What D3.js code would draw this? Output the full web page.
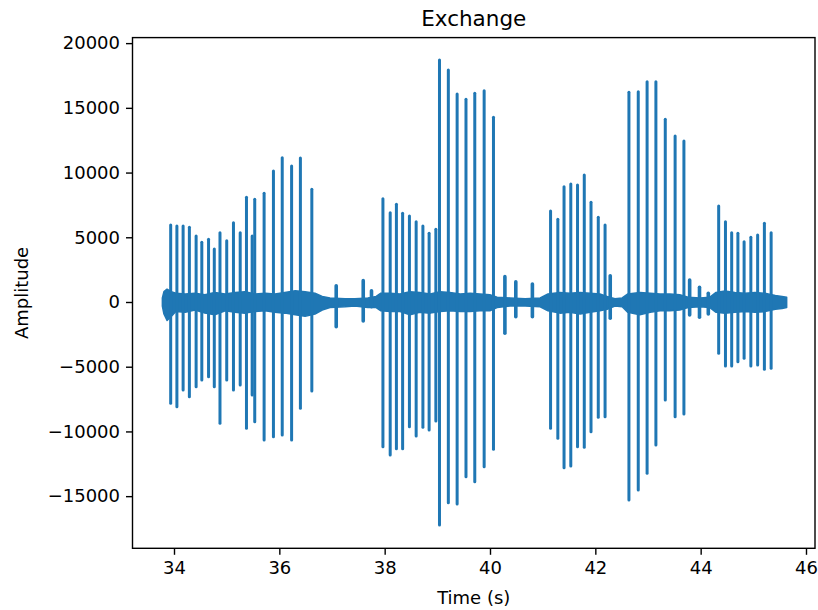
<!DOCTYPE html>
<html>
<head>
<meta charset="utf-8">
<script src="https://cdn.jsdelivr.net/npm/d3@7"></script>
<style>
  body { margin: 0; background: #fff; }
  text { font-family: "DejaVu Sans", sans-serif; fill: #000; }
</style>
</head>
<body>
<script>
/* clicks: time (s), positive peak, negative peak */
const spikeTime = [33.937, 34.055, 34.173, 34.292, 34.420, 34.528, 34.656, 34.765, 34.873, 35.001, 35.129, 35.257, 35.376, 35.484, 35.533, 35.711, 35.888, 36.055, 36.233, 36.400, 36.617,
  37.967, 38.105, 38.223, 38.341, 38.470, 38.598, 38.726, 38.844, 38.972, 39.041, 39.209, 39.376, 39.544, 39.711, 39.889, 40.066,
  41.150, 41.288, 41.406, 41.534, 41.662, 41.790, 41.918, 42.056, 42.185, 42.638, 42.815, 42.983, 43.150, 43.328, 43.515, 43.682,
  44.342, 44.471, 44.589, 44.707, 44.825, 44.953, 45.082, 45.210, 45.338];
const spikeHigh = [5950, 5870, 5870, 5770, 5100, 4610, 4840, 4100, 5350, 4740, 6130, 5350, 8090, 5100, 7940, 8400, 10120, 11150, 10510, 11130, 8710,
  7980, 6900, 7550, 6850, 6640, 6200, 5870, 5310, 5620, 18700, 17920, 16070, 15660, 16120, 16330, 14270,
  7030, 6390, 8910, 9120, 9040, 9810, 7700, 6540, 5950, 16200, 16250, 17020, 17020, 14120, 12830, 12440,
  7420, 6200, 5350, 5310, 4660, 5000, 5180, 6080, 5350];
const spikeLow = [-7830, -8090, -6800, -7320, -6540, -6030, -5770, -6540, -9370, -6030, -6800, -6410, -9760, -7190, -9250, -10660, -10410, -10280, -10660, -8210, -6880,
  -11180, -11820, -11340, -11340, -9630, -10350, -9680, -9890, -9190, -17230, -15510, -15610, -13500, -13880, -12730, -11380,
  -9760, -10530, -12800, -12670, -11180, -11230, -10020, -8910, -8860, -15300, -14530, -13240, -11050, -7570, -8860, -8650,
  -3960, -4950, -4950, -4610, -4350, -4950, -4870, -5200, -5120];

/* small bumps in the quiet parts */
const bumpTime = [37.080, 37.593, 37.750, 40.283, 40.490, 40.805, 42.283, 43.791, 43.978, 44.145];
const bumpHigh = [1260, 1650, 870, 1960, 1570, 1390, 2030, 1700, 1140, 670];
const bumpLow = [-1910, -1470, -360, -2420, -1140, -1140, -1260, -1000, -1180, -930];

/* background noise envelope */
const bandTime = [33.779, 33.809, 33.868, 33.947, 34.035, 34.213, 34.400, 34.587, 34.774, 34.972, 35.159, 35.346, 35.543, 35.730, 35.917, 36.105, 36.302, 36.489, 36.676, 36.814,
  36.962, 37.248, 37.435, 37.681, 37.839, 37.928, 38.105, 38.292, 38.479, 38.667, 38.864, 39.051, 39.238, 39.435, 39.623, 39.810, 39.997, 40.135, 40.381, 40.667,
  40.953, 41.101, 41.327, 41.514, 41.712, 41.899, 42.086, 42.224, 42.372, 42.510, 42.618, 42.845, 43.042, 43.229, 43.416, 43.603, 43.761, 43.988, 44.175, 44.293,
  44.461, 44.648, 44.845, 45.032, 45.219, 45.417, 45.545, 45.633];
const bandHigh = [310, 800, 990, 800, 680, 620, 680, 560, 740, 620, 740, 800, 620, 680, 620, 740, 860, 800, 680, 430,
  310, 250, 250, 310, 430, 680, 680, 620, 800, 740, 620, 800, 740, 620, 680, 620, 560, 370, 310, 250,
  310, 620, 740, 680, 740, 680, 620, 430, 250, 310, 620, 740, 680, 620, 620, 560, 370, 310, 370, 740,
  860, 740, 680, 740, 680, 500, 430, 370];
const bandLow = [-310, -930, -1420, -1110, -740, -800, -620, -860, -990, -680, -800, -860, -740, -680, -800, -860, -990, -1110, -930, -620,
  -430, -370, -310, -430, -430, -680, -740, -740, -990, -800, -860, -740, -680, -740, -740, -680, -680, -430, -310, -310,
  -370, -680, -860, -800, -930, -800, -680, -560, -310, -370, -800, -990, -800, -680, -680, -620, -430, -370, -430, -800,
  -860, -800, -740, -800, -740, -560, -500, -430];

const xTicks = [34, 36, 38, 40, 42, 44, 46];
const yTicks = [-15000, -10000, -5000, 0, 5000, 10000, 15000, 20000];

const W = 818, H = 610;
const box = {left: 132.5, right: 815, top: 37.6, bottom: 548.3};
const blue = "#1f77b4";

const svg = d3.select("body").append("svg")
  .attr("width", W).attr("height", H);

const x = d3.scaleLinear().domain([33.212, 46.171]).range([box.left, box.right]);
const y = d3.scaleLinear().domain([-19029, 20427]).range([box.bottom, box.top]);

svg.append("clipPath").attr("id", "clip")
  .append("rect")
  .attr("x", box.left).attr("y", box.top)
  .attr("width", box.right - box.left).attr("height", box.bottom - box.top);

const g = svg.append("g").attr("clip-path", "url(#clip)");

// noise band
const band = bandTime.map((t, i) => ({t: t, hi: bandHigh[i], lo: bandLow[i]}));
g.append("path")
  .datum(band)
  .attr("fill", blue)
  .attr("stroke", blue)
  .attr("stroke-width", 1.5)
  .attr("stroke-linejoin", "round")
  .attr("d", d3.area().x(d => x(d.t)).y0(d => y(d.lo)).y1(d => y(d.hi)));

// bumps and clicks as vertical strokes
const stroke = d3.line().x(d => x(d[0])).y(d => y(d[1]));

g.selectAll(".bump")
  .data(bumpTime.map((t, i) => [[t, bumpHigh[i]], [t, bumpLow[i]]]))
  .join("path")
  .attr("class", "bump")
  .attr("fill", "none").attr("stroke", blue)
  .attr("stroke-width", 3.6).attr("stroke-linecap", "round")
  .attr("d", stroke);

g.selectAll(".spike")
  .data(spikeTime.map((t, i) => [[t, spikeHigh[i]], [t, spikeLow[i]]]))
  .join("path")
  .attr("class", "spike")
  .attr("fill", "none").attr("stroke", blue)
  .attr("stroke-width", 3).attr("stroke-linecap", "round")
  .attr("d", stroke);

// axes
const fmt = d3.format("d");

const xAxis = svg.append("g")
  .attr("transform", "translate(0," + box.bottom + ")")
  .call(d3.axisBottom(x).tickValues(xTicks).tickFormat(fmt).tickSize(6.5).tickPadding(6));
const yAxis = svg.append("g")
  .attr("transform", "translate(" + box.left + ",0)")
  .call(d3.axisLeft(y).tickValues(yTicks).tickFormat(fmt).tickSize(6.5).tickPadding(6));

[xAxis, yAxis].forEach(a => {
  a.select(".domain").remove();
  a.selectAll("line").attr("stroke", "#000").attr("stroke-width", 1.4);
  a.selectAll("text").style("font-size", "18px").attr("fill", "#000");
});

// frame
svg.append("rect")
  .attr("x", box.left).attr("y", box.top)
  .attr("width", box.right - box.left).attr("height", box.bottom - box.top)
  .attr("fill", "none").attr("stroke", "#000").attr("stroke-width", 1.4);

// labels
svg.append("text")
  .attr("x", (box.left + box.right) / 2).attr("y", 26)
  .attr("text-anchor", "middle").style("font-size", "21.5px")
  .text("Exchange");

svg.append("text")
  .attr("x", (box.left + box.right) / 2).attr("y", 604)
  .attr("text-anchor", "middle").style("font-size", "18px")
  .text("Time (s)");

svg.append("text")
  .attr("transform", "translate(28," + (box.top + box.bottom) / 2 + ") rotate(-90)")
  .attr("text-anchor", "middle").style("font-size", "18px")
  .text("Amplitude");
</script>
</body>
</html>
